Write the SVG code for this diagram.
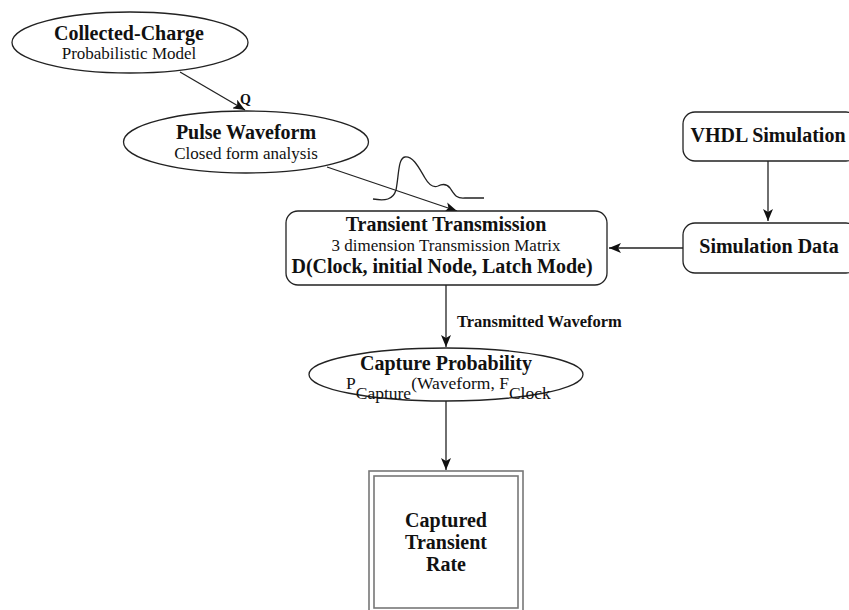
<svg xmlns="http://www.w3.org/2000/svg" width="849" height="610" viewBox="0 0 849 610">
  <style>
    .shape { fill: #fff; stroke: #222; stroke-width: 1.3; }
    .edge { fill: none; stroke: #222; stroke-width: 1.3; }
    .t { font-family: "Liberation Serif", "DejaVu Serif", serif; fill: #111; text-anchor: middle; }
    .b { font-weight: bold; font-size: 20px; }
    .r { font-size: 17px; }
    .lbl { font-family: "Liberation Serif", "DejaVu Serif", serif; font-weight: bold; fill: #111; }
    .formula { font-family: "Liberation Serif", "DejaVu Serif", serif; font-size: 17.5px; fill: #111; }
    .dbl { fill: none; stroke: #777; stroke-width: 1.6; }
  </style>
  <defs>
    <marker id="arrow" markerUnits="userSpaceOnUse" markerWidth="13" markerHeight="10" refX="12" refY="5" orient="auto">
      <path d="M0,0 L12,5 L0,10 L3,5 z" fill="#111"/>
    </marker>
  </defs>

  <rect width="849" height="610" fill="#fff"/>

  <g id="connectors">
    <line class="edge" x1="180" y1="72" x2="245" y2="110" marker-end="url(#arrow)"/>
    <line class="edge" x1="327" y1="167" x2="457" y2="211" marker-end="url(#arrow)"/>
    <line class="edge" x1="768" y1="161" x2="768" y2="221" marker-end="url(#arrow)"/>
    <line class="edge" x1="683" y1="248" x2="609" y2="248" marker-end="url(#arrow)"/>
    <line class="edge" x1="446" y1="285" x2="446" y2="347" marker-end="url(#arrow)"/>
    <line class="edge" x1="446" y1="401" x2="446" y2="470" marker-end="url(#arrow)"/>
    <text class="lbl" x="240" y="104" font-size="14">Q</text>
    <text class="lbl" x="457" y="327" font-size="16.5">Transmitted Waveform</text>
    <!-- pulse sketch over the waveform connector -->
    <path class="edge" d="M373,199 C385,201 393,200 396,190 C399,175 398,158 405,157 C414,156 420,170 425,178 C429,185 433,188 438,186 C442,184 446,183 450,188 C454,194 456,199 465,198 L484,198"/>
  </g>

  <g id="collected-charge">
    <ellipse class="shape" cx="130" cy="42.5" rx="118" ry="30.5"/>
    <text class="t b" x="129" y="40">Collected-Charge</text>
    <text class="t r" x="129" y="59">Probabilistic Model</text>
  </g>

  <g id="pulse-waveform">
    <ellipse class="shape" cx="246" cy="142" rx="122.5" ry="31"/>
    <text class="t b" x="246" y="139">Pulse Waveform</text>
    <text class="t r" x="246" y="159">Closed form analysis</text>
  </g>

  <g id="vhdl-simulation">
    <rect class="shape" x="683" y="112" width="175" height="49" rx="12"/>
    <text class="t b" x="768" y="142">VHDL Simulation</text>
  </g>

  <g id="simulation-data">
    <rect class="shape" x="683" y="223" width="175" height="50" rx="12"/>
    <text class="t b" x="769" y="253">Simulation Data</text>
  </g>

  <g id="transient-transmission">
    <rect class="shape" x="286" y="211" width="321" height="74" rx="12"/>
    <text class="t b" x="446" y="231">Transient Transmission</text>
    <text class="t" x="446" y="251" font-size="17">3 dimension Transmission Matrix</text>
    <text class="t b" x="442" y="273" font-size="20.5">D(Clock, initial Node, Latch Mode)</text>
  </g>

  <g id="capture-probability">
    <ellipse class="shape" cx="446" cy="374.5" rx="137" ry="26.5"/>
    <text class="t b" x="446" y="370">Capture Probability</text>
    <text class="formula" x="346" y="389">P<tspan dy="10">Capture</tspan><tspan dy="-10">(Waveform, F</tspan><tspan dy="10">Clock</tspan></text>
  </g>

  <g id="captured-transient-rate">
    <rect class="dbl" x="369" y="471" width="154" height="150"/>
    <rect class="dbl" x="374" y="476" width="144" height="132"/>
    <text class="t b" x="446" y="527">Captured</text>
    <text class="t b" x="446" y="549">Transient</text>
    <text class="t b" x="446" y="571">Rate</text>
  </g>
</svg>
